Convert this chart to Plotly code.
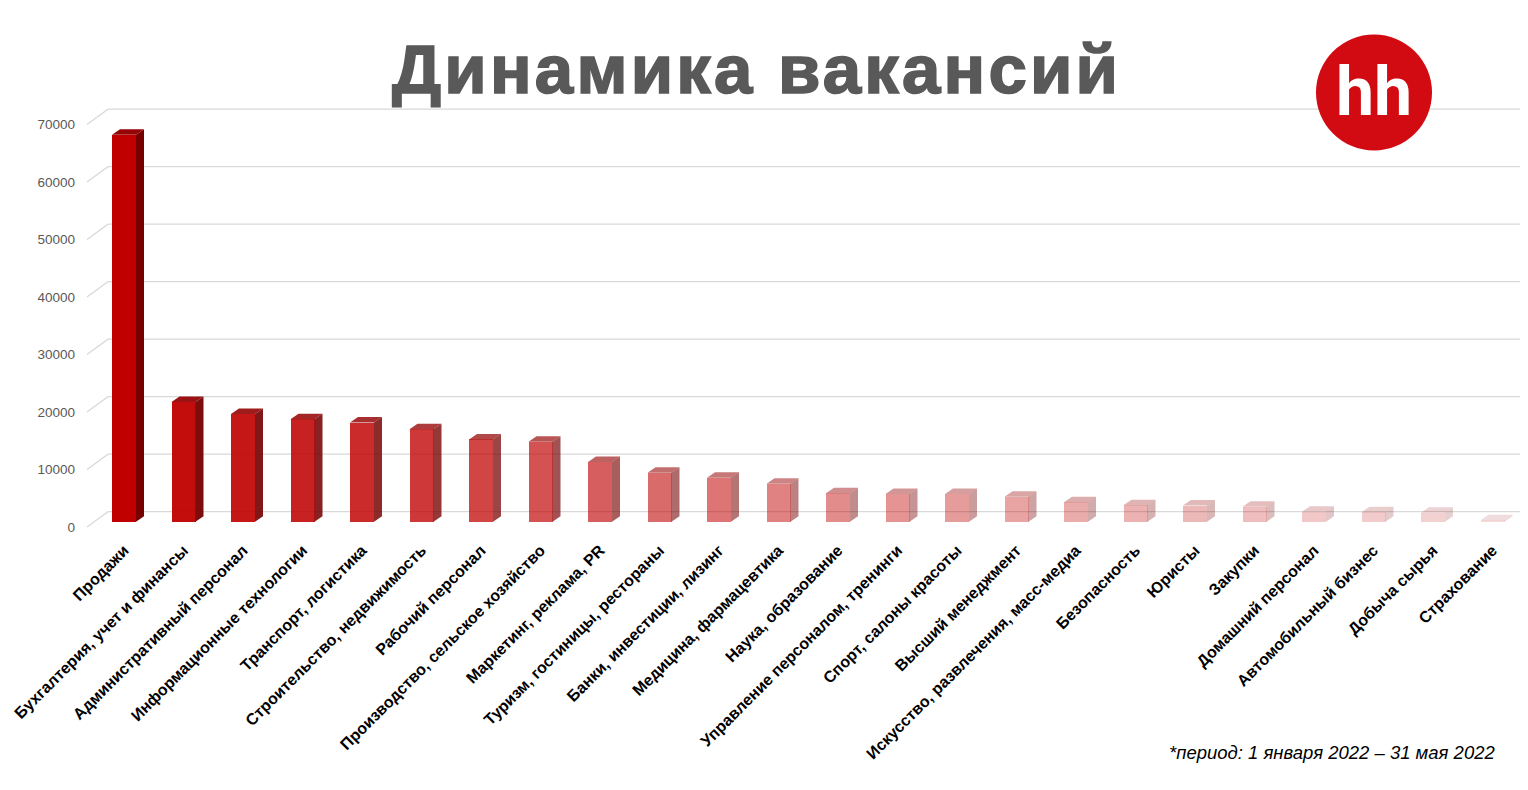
import plotly.graph_objects as go

# the page body has an 8px margin, so the figure is a bit smaller and
# all pixel positions below are given in screenshot coordinates
OFF = 8
W, H = 1528 - OFF, 790 - 2 * OFF

categories = ['Продажи', 'Бухгалтерия, учет и финансы', 'Административный персонал',
              'Информационные технологии', 'Транспорт, логистика', 'Строительство, недвижимость',
              'Рабочий персонал', 'Производство, сельское хозяйство', 'Маркетинг, реклама, PR',
              'Туризм, гостиницы, рестораны', 'Банки, инвестиции, лизинг', 'Медицина, фармацевтика',
              'Наука, образование', 'Управление персоналом, тренинги', 'Спорт, салоны красоты',
              'Высший менеджмент', 'Искусство, развлечения, масс-медиа', 'Безопасность', 'Юристы',
              'Закупки', 'Домашний персонал', 'Автомобильный бизнес', 'Добыча сырья', 'Страхование']
vacancies = [67300, 20800, 18750, 17800, 17250, 16100, 14300, 13900, 10400, 8500, 7650, 6600,
             4950, 4800, 4800, 4350, 3400, 2850, 2800, 2600, 1750, 1650, 1550, 250]
y_ticks = [0, 10000, 20000, 30000, 40000, 50000, 60000, 70000]

# opacity of each column (gradient from dark red to pale pink)
alphas = [1.0, 0.95, 0.91, 0.87, 0.83, 0.78, 0.73, 0.68, 0.63, 0.58, 0.54, 0.49,
          0.45, 0.42, 0.39, 0.36, 0.33, 0.3, 0.28, 0.26, 0.22, 0.2, 0.18, 0.14]


def px(x):
    return (x - OFF) / W


def py(y):
    return 1 - (y - OFF) / H


# pixel geometry of the pseudo-3d plot
pitch = 59.5            # px between column centres
c0 = 124                # px centre of first column
left, right = 84, 1528  # plot area, px
top, bottom = 95, 537
base = 521.7            # px of value 0 on the front face
upp = 10000 / 57.5      # value units per px

bw = 24 / pitch                  # front face width, x units
dx, dy = 8 / pitch, 5.5 * upp    # column depth
g_front, g_back = -5.3 * upp, 10 * upp
gx_front, gx_back = (87 - c0) / pitch, (108 - c0) / pitch
gx_end = (right - c0) / pitch

fig = go.Figure()

xs = list(range(len(categories)))
fig.add_trace(go.Bar(x=xs, y=vacancies, width=bw,
                     marker=dict(color=[f'rgba(192,0,0,{a})' for a in alphas], line_width=0),
                     showlegend=False))

for i, v in enumerate(vacancies):
    a = alphas[i]
    xr, xl = i + bw / 2, i - bw / 2
    # side face
    fig.add_trace(go.Scatter(x=[xr, xr + dx, xr + dx, xr, xr], y=[0, dy, v + dy, v, 0],
                             fill='toself', fillcolor=f'rgba(118,0,0,{a})', mode='lines',
                             line_width=0, hoverinfo='skip', showlegend=False))
    # top face
    fig.add_trace(go.Scatter(x=[xl, xr, xr + dx, xl + dx, xl], y=[v, v, v + dy, v + dy, v],
                             fill='toself', fillcolor=f'rgba(150,5,5,{a})', mode='lines',
                             line_width=0, hoverinfo='skip', showlegend=False))

# gridlines with the floor diagonal, under the columns
shapes = []
for t in y_ticks:
    shapes.append(dict(type='path', xref='x', yref='y', layer='below',
                       path=f'M{gx_front},{t + g_front} L{gx_back},{t + g_back} L{gx_end},{t + g_back}',
                       line=dict(color='#d9d9d9', width=1.3)))
shapes.append(dict(type='circle', xref='paper', yref='paper',
                   x0=px(1316), x1=px(1432), y0=py(150.5), y1=py(34.5),
                   fillcolor='#d20a11', line_width=0, layer='above'))

title_style = 'letter-spacing:3.2px;stroke:#595959;stroke-width:1.6px'

fig.update_layout(
    width=W, height=H,
    margin=dict(l=0, r=0, t=0, b=0),
    paper_bgcolor='white', plot_bgcolor='white',
    bargap=0,
    xaxis=dict(domain=[px(left), 1], range=[(left - c0) / pitch, gx_end],
               tickmode='array', tickvals=xs, ticktext=categories, tickangle=-45,
               tickfont=dict(family='Liberation Sans', size=16, color='black', weight='bold'),
               showgrid=False, zeroline=False, showline=False, ticks='', automargin=False),
    yaxis=dict(domain=[py(bottom), py(top)],
               range=[-(bottom - base) * upp, (base - top) * upp],
               tickmode='array', tickvals=[t + g_front for t in y_ticks],
               ticktext=[str(t) for t in y_ticks], ticklabelstandoff=8,
               tickfont=dict(family='Liberation Sans', size=13.5, color='#595959'),
               showgrid=False, zeroline=False, showline=False, ticks='', automargin=False),
    shapes=shapes,
    annotations=[
        dict(text=f'<span style="{title_style}">Динамика вакансий</span>',
             xref='paper', yref='paper', x=px(756), y=py(70),
             xanchor='center', yanchor='middle', showarrow=False,
             font=dict(family='Liberation Sans', size=69, color='#595959', weight='bold')),
        dict(text='hh', xref='paper', yref='paper', x=px(1374), y=py(92),
             xanchor='center', yanchor='middle', showarrow=False,
             font=dict(family='Roboto', size=68, color='white', weight='bold')),
        dict(text='*период: 1 января 2022 – 31 мая 2022', xref='paper', yref='paper',
             x=px(1497), y=py(752), xanchor='right', yanchor='middle', showarrow=False,
             font=dict(family='Liberation Sans', size=18.5, color='black', style='italic')),
    ],
)

fig.write_html('out.html')
